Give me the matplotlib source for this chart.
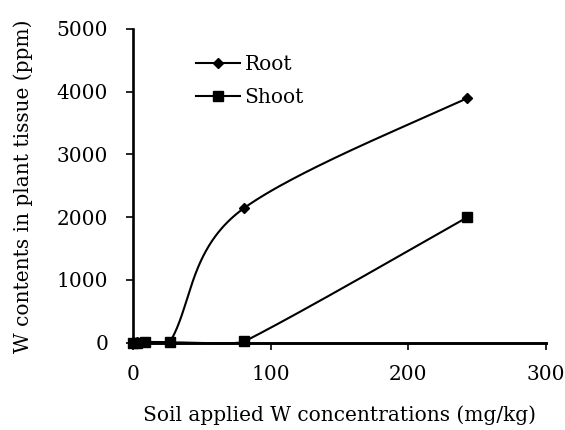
import numpy as np
import matplotlib
matplotlib.use("Agg")
import matplotlib.pyplot as plt

# Data
soil_w = [0, 3, 9, 27, 81, 243]
root = [5, 8, 12, 15, 2150, 3900]
shoot = [0, 2, 5, 5, 20, 2000]
x_ticks = [0, 100, 200, 300]
y_ticks = [0, 1000, 2000, 3000, 4000, 5000]

plt.rcParams['font.family'] = ['DejaVu Serif']
FS = 14.5

fig = plt.figure(figsize=(5.65, 4.3), dpi=100)
ax = fig.add_axes([0.2354, 0.203, 0.7306, 0.7296])
ax.set_xlim(0, 300)
ax.set_ylim(0, 5000)


def smooth(xs, ys, n=80):
    # smoothed line through the points: cubic Bezier segments whose control
    # points follow a length-weighted tangent (display-proportional space)
    sx = 413.0 / 300.0
    sy = 313.0 / 5000.0
    P = np.column_stack([np.asarray(xs, float) * sx, np.asarray(ys, float) * sy])
    m = len(P)
    chords = [P[i + 1] - P[i] for i in range(m - 1)]
    lens = [np.linalg.norm(c) for c in chords]
    T = []
    for i in range(m):
        if i == 0:
            T.append(chords[0] / 2.0)
        elif i == m - 1:
            T.append(chords[-1] / 2.0)
        else:
            a, b = lens[i - 1], lens[i]
            T.append((a * chords[i - 1] + b * chords[i]) / (a + b) if a + b > 0 else chords[i] * 0)
    out = []
    for i in range(m - 1):
        p1, p2 = P[i], P[i + 1]
        dseg = lens[i]
        # control at p1
        s1 = 1.0
        if i > 0 and lens[i - 1] > 0:
            r = dseg / lens[i - 1]
            s1 = min(1.0, r / 0.6) ** 3
        s2 = 1.0
        if i + 1 < m - 1 and lens[i + 1] > 0:
            r = dseg / lens[i + 1]
            s2 = min(1.0, r / 0.6) ** 3
        c1 = p1 + T[i] / 3.0 * s1
        c2 = p2 - T[i + 1] / 3.0 * s2
        t = np.linspace(0, 1, n)[:, None]
        seg = ((1 - t) ** 3) * p1 + 3 * ((1 - t) ** 2) * t * c1 + 3 * (1 - t) * t ** 2 * c2 + t ** 3 * p2
        out.append(seg if i == 0 else seg[1:])
    out = np.vstack(out)
    return out[:, 0] / sx, out[:, 1] / sy


for ys, mk, ms, lab in [(root, 'D', 5.5, 'Root'), (shoot, 's', 7.5, 'Shoot')]:
    cx, cy = smooth(soil_w, ys)
    ax.plot(cx, cy, color='black', lw=1.5, clip_on=False, zorder=3)
    ax.plot(soil_w, ys, linestyle='none', marker=mk, ms=ms, color='black',
            clip_on=False, zorder=4)
    ax.plot([], [], color='black', lw=1.5, marker=mk, ms=ms, label=lab)

ax.spines['top'].set_visible(False)
ax.spines['right'].set_visible(False)
ax.spines['left'].set_linewidth(1.9)
ax.spines['bottom'].set_linewidth(2.1)
ax.set_xticks(x_ticks)
ax.set_yticks(y_ticks)
ax.tick_params(axis='both', direction='out', length=5, width=1.2, labelsize=FS, colors='black')
ax.tick_params(axis='y', pad=13)
ax.tick_params(axis='x', pad=11)

ax.set_xlabel('Soil applied W concentrations (mg/kg)', fontsize=FS)
ax.set_ylabel('W contents in plant tissue (ppm)', fontsize=FS)
ax.xaxis.set_label_coords(0.5, -0.200)
ax.yaxis.set_label_coords(-0.242, 0.5)

leg = ax.legend(loc='upper left', bbox_to_anchor=(0.153, 0.918), frameon=False, fontsize=FS,
                handlelength=2.2, handletextpad=0.2, labelspacing=0.7,
                borderaxespad=0, borderpad=0)

fig.savefig('out.png', dpi=100)
